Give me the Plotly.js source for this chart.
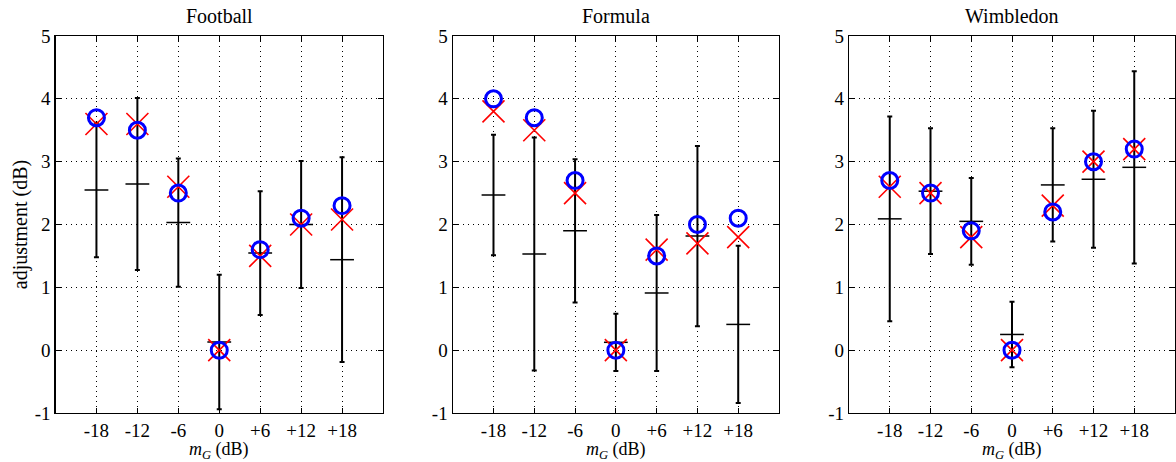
<!DOCTYPE html>
<html><head><meta charset="utf-8">
<script src="https://cdn.plot.ly/plotly-3.0.1.min.js"></script>
<style>body{margin:0;background:#fff;} #chart{width:1176px;height:462px;}</style>
</head><body><div id="chart"></div>
<script>
const panelTitles = ["Football", "Formula", "Wimbledon"];
const gainValues = [-18, -12, -6, 0, 6, 12, 18];
const gainLabels = ["-18", "-12", "-6", "0", "+6", "+12", "+18"];
const yTicks = [-1, 0, 1, 2, 3, 4, 5];
const yTickLabels = ["-1", "0", "1", "2", "3", "4", "5"];
const xTitle = "<i>m<sub>G</sub></i> (dB)";
const yTitle = "adjustment (dB)";

const footballCircle = [3.7, 3.5, 2.5, 0, 1.6, 2.1, 2.3];
const footballCross  = [3.6, 3.6, 2.6, 0, 1.5, 2.0, 2.08];
const footballMean   = [2.55, 2.645, 2.03, 0.13, 1.545, 2.0, 1.44];
const footballErr    = [1.07, 1.37, 1.02, 1.07, 0.985, 1.01, 1.63];

const formulaCircle = [4.0, 3.7, 2.7, 0, 1.5, 2.0, 2.1];
const formulaCross  = [3.8, 3.5, 2.5, 0, 1.6, 1.7, 1.8];
const formulaMean   = [2.47, 1.53, 1.9, 0.125, 0.91, 1.815, 0.41];
const formulaErr    = [0.96, 1.855, 1.14, 0.455, 1.24, 1.435, 1.25];

const wimbledonCircle = [2.7, 2.5, 1.9, 0, 2.2, 3.0, 3.2];
const wimbledonCross  = [2.6, 2.5, 1.8, 0, 2.3, 3.0, 3.2];
const wimbledonMean   = [2.09, 2.53, 2.05, 0.25, 2.63, 2.72, 2.91];
const wimbledonErr    = [1.63, 1.0, 0.69, 0.52, 0.9, 1.09, 1.53];

const panelData = [
  [footballCircle, footballCross, footballMean, footballErr],
  [formulaCircle, formulaCross, formulaMean, formulaErr],
  [wimbledonCircle, wimbledonCross, wimbledonMean, wimbledonErr]
];

const domains = [[55.5/1176, 383/1176], [452.7/1176, 779/1176], [849/1176, 1175/1176]];
const FONT = "Liberation Serif";

const traces = [];
const layout = {
  width: 1176, height: 462,
  margin: {l: 0, r: 0, t: 36, b: 49},
  paper_bgcolor: "#fff", plot_bgcolor: "#fff",
  showlegend: false,
  font: {family: FONT, size: 19, color: "#000"},
  annotations: []
};

panelData.forEach((d, i) => {
  const [circ, cross, mean, err] = d;
  const sfx = i === 0 ? "" : String(i + 1);
  const xa = "x" + sfx, ya = "y" + sfx;
  traces.push({
    x: gainValues, y: mean, xaxis: xa, yaxis: ya, type: "scatter", mode: "markers",
    marker: {symbol: "line-ew", size: 17, color: "#000", line: {color: "#000", width: 1.5}},
    error_y: {type: "data", array: err, visible: true, color: "#000", thickness: 2, width: 2.5},
    hoverinfo: "skip"
  });
  traces.push({
    x: gainValues, y: cross, xaxis: xa, yaxis: ya, type: "scatter", mode: "markers",
    marker: {symbol: "x-thin-open", size: 22, color: "#ff0000", line: {color: "#ff0000", width: 1.6}}
  });
  traces.push({
    x: gainValues, y: circ, xaxis: xa, yaxis: ya, type: "scatter", mode: "markers",
    marker: {symbol: "circle-open", size: 16, color: "#0000ff", line: {color: "#0000ff", width: 3}}
  });
  layout["xaxis" + sfx] = {
    domain: domains[i], anchor: ya, range: [-24, 24],
    tickmode: "array", tickvals: gainValues, ticktext: gainLabels,
    ticks: "inside", ticklen: 5, tickwidth: 1, tickcolor: "#000",
    showline: true, linecolor: "#000", linewidth: 1.2, mirror: "ticks",
    showgrid: true, gridcolor: "#000", gridwidth: 1, griddash: "1px,4px",
    zeroline: false, tickfont: {family: FONT, size: 19, color: "#000"},
    fixedrange: true
  };
  layout["yaxis" + sfx] = {
    domain: [0, 1], anchor: xa, range: [-1, 5],
    tickmode: "array", tickvals: yTicks, ticktext: yTickLabels,
    ticks: "inside", ticklen: 5, tickwidth: 1, tickcolor: "#000",
    showline: true, linecolor: "#000", linewidth: 1.2, mirror: "ticks",
    showgrid: true, gridcolor: "#000", gridwidth: 1, griddash: "1px,4px",
    zeroline: false, tickfont: {family: FONT, size: 19, color: "#000"},
    fixedrange: true
  };
  if (i === 0) {
    layout["yaxis" + sfx].title = {text: yTitle, font: {family: FONT, size: 20, color: "#000"}, standoff: 1};
  }
  layout.annotations.push({
    text: panelTitles[i], xref: xa + " domain", yref: ya + " domain",
    x: 0.5, y: 1, yanchor: "bottom", xanchor: "center", yshift: 7, showarrow: false,
    font: {family: FONT, size: 20, color: "#000"}
  });
  layout.annotations.push({
    text: xTitle, xref: xa + " domain", yref: ya + " domain",
    x: 0.5, y: 0, yanchor: "top", xanchor: "center", yshift: -24, showarrow: false,
    font: {family: FONT, size: 18, color: "#000"}
  });
});

Plotly.newPlot("chart", traces, layout, {displayModeBar: false, staticPlot: true});
</script>
</body></html>
